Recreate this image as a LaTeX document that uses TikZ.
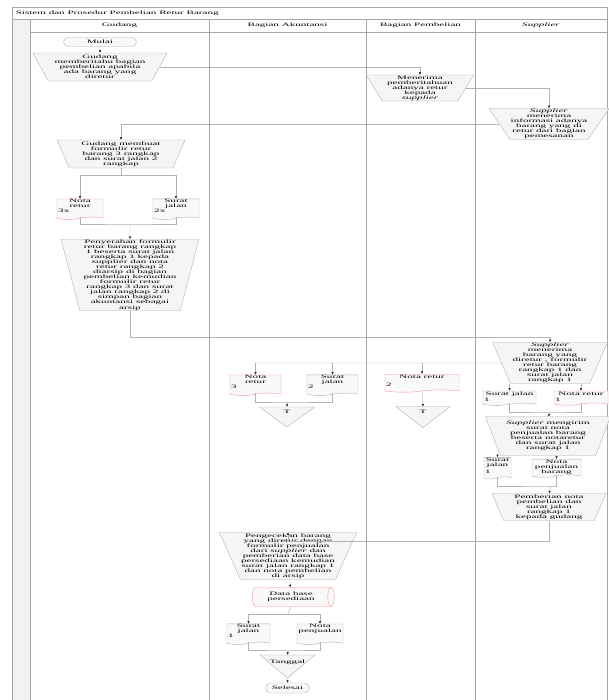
\documentclass[tikz,border=0pt]{standalone}
\usepackage{fontspec}
\setmainfont{Liberation Serif}
\newfontfamily\flowfont[FakeStretch=2.15]{Liberation Serif}
\usepackage{tikz}
\usetikzlibrary{arrows.meta, shapes.geometric, shapes.symbols, shapes.misc, positioning, calc}

\newcommand{\pxu}{0.03cm}

\begin{document}
\begin{tikzpicture}[x=0.03cm, y=-0.03cm,
    every node/.style={font=\flowfont\fontsize{4.4}{4.3}\selectfont, inner sep=0.5pt, align=center},
    lane/.style={draw=gray!70, line width=0.5pt},
    manual/.style={trapezium, shape border rotate=180, trapezium stretches body, draw=gray!65, fill=gray!8, line width=0.3pt},
    doc/.style={tape, tape bend top=none, tape bend bottom=in and out, tape bend height=2pt, draw=gray!65, fill=gray!5, line width=0.3pt, minimum height=18*\pxu},
    pinkdoc/.style={doc, draw=red!45},
    term/.style={rounded rectangle, draw=gray!65, fill=gray!5, line width=0.3pt},
    offline/.style={isosceles triangle, shape border rotate=270, isosceles triangle stretches, inner sep=0pt, draw=gray!65, fill=gray!8, line width=0.3pt},
    storage/.style={cylinder, aspect=0.6, draw=red!45, fill=gray!5, line width=0.3pt},
    num/.style={anchor=west, inner sep=1pt, yshift=-2pt},
    tri/.style={yshift=4pt, inner sep=0pt},
    line/.style={draw=gray!60, line width=0.35pt},
    flow/.style={line, -{Latex[length=2.2pt, width=2pt, color=gray!25!black]}}]
\useasboundingbox (0,0) rectangle (608,700);
% bingkai dan lajur
\fill[gray!10] (12,19) rectangle (30,700);
\draw[lane] (12,700) -- (12,7) -- (607,7) -- (607,700);
\draw[lane] (12,19) -- (607,19);
\draw[lane] (30,32) -- (607,32);
\foreach \x in {30,209,366,475} \draw[lane] (\x,19) -- (\x,700);
\node[anchor=west] (judul) at (15,13) {Sistem dan Prosedur Pembelian Retur Barang};
\node (hgud) at (119.5,25.5) {Gudang};
\node (hakt) at (287.5,25.5) {Bagian Akuntansi};
\node (hbel) at (420.5,25.5) {Bagian Pembelian};
\node (hsup) at (541,25.5) {\textit{Supplier}};
% Gudang
\node[term, minimum width=74*\pxu, minimum height=9*\pxu] (mulai) at (100,42) {Mulai};
\node[manual, trapezium angle=58.7, minimum width=134*\pxu, minimum height=28*\pxu] (g1) at (100,67) {Gudang\\memberitahu bagian\\pembelian apabila\\ada barang yang\\diretur};
\node[manual, trapezium angle=65, minimum width=128*\pxu, minimum height=28*\pxu] (g2) at (121,154) {Gudang membuat\\formulir retur\\barang 3 rangkap\\dan surat jalan 2\\rangkap};
\node[pinkdoc, minimum width=46*\pxu, label={[num]west:3x}] (d1) at (80,208) {Nota\\retur\\[3pt]};
\node[doc, minimum width=46*\pxu, label={[num]west:2x}] (d2) at (176,208) {Surat\\jalan\\[3pt]};
\node[manual, trapezium angle=75.2, minimum width=138*\pxu, minimum height=70*\pxu] (g3) at (130,275) {Penyerahan formulir\\retur barang rangkap\\1 beserta surat jalan\\rangkap 1 kepada\\supplier dan nota\\retur rangkap 2\\diarsip di bagian\\pembelian kemudian\\formulir retur\\rangkap 3 dan surat\\jalan rangkap 2 di\\simpan bagian\\akuntansi sebagai\\arsip};
% Bagian Pembelian
\node[manual, trapezium angle=57.6, minimum width=108*\pxu, minimum height=26*\pxu] (p1) at (420,88) {Menerima\\pemberitahuan\\adanya retur\\kepada\\\textit{supplier}};
\node[pinkdoc, minimum width=74*\pxu, label={[num]west:2}] (p2) at (422,382) {Nota retur\\[4pt]};
\node[offline, minimum width=54*\pxu, minimum height=21*\pxu, label={[tri]center:T}] (t2) at (423,416) {};
% Supplier
\node[manual, trapezium angle=55.6, minimum width=112*\pxu, minimum height=27*\pxu] (s1) at (549,124) {\textit{Supplier}\\menerima\\informasi adanya\\barang  yang di\\retur dari bagian\\pemesanan};
\node[manual, trapezium angle=66.4, minimum width=115*\pxu, minimum height=40*\pxu] (s2) at (550,363) {\textit{Supplier}\\menerima\\barang yang\\diretur , formulir\\retur barang\\rangkap 1 dan\\surat jalan\\rangkap 1};
\node[doc, minimum width=53*\pxu, minimum height=13*\pxu, label={[num]west:1}] (sd1) at (509.5,397) {Surat jalan\\[2pt]};
\node[pinkdoc, minimum width=54*\pxu, minimum height=13*\pxu, label={[num]west:1}] (sd2) at (581,397) {Nota retur\\[2pt]};
\node[manual, trapezium angle=64.6, minimum width=125*\pxu, minimum height=39*\pxu] (s3) at (548,436) {\textit{Supplier} mengirim\\surat nota\\penjualan barang\\beserta notaretur\\dan surat jalan\\rangkap 1};
\node[doc, minimum width=27*\pxu, minimum height=16*\pxu, label={[num, yshift=-2pt]west:1}] (sd3) at (497.5,467) {Surat\\jalan\\[4pt]};
\node[doc, minimum width=49*\pxu, minimum height=16*\pxu] (sd4) at (556.5,467) {Nota\\penjualan\\barang};
\node[manual, trapezium angle=66, minimum width=114*\pxu, minimum height=27*\pxu] (s4) at (549,507) {Pemberian nota\\pembelian dan\\surat jalan\\rangkap 1\\kepada gudang};
% Bagian Akuntansi
\node[pinkdoc, minimum width=51*\pxu, label={[num]west:3}] (a1) at (255.5,384) {Nota\\retur\\[3pt]};
\node[doc, minimum width=51*\pxu, label={[num]west:2}] (a2) at (332.5,384) {Surat\\jalan\\[3pt]};
\node[offline, minimum width=55*\pxu, minimum height=20*\pxu, label={[tri]center:T}] (t1) at (287,416) {};
\node[manual, trapezium angle=65.4, minimum width=134*\pxu, minimum height=47*\pxu] (a3) at (288,556) {Pengecekan barang\\yang diretur dengan\\formulir penjualan\\dari \textit{supplier} dan\\pemberian data base\\persediaan kemudian\\surat jalan rangkap 1\\dan nota pembelian\\di arsip};
\node[storage, minimum width=19*\pxu, minimum height=82*\pxu] (db) at (291,597) {Data base\\persediaan};
\node[doc, minimum width=43*\pxu, label={[num]west:1}] (ad1) at (248.5,633) {Surat\\jalan\\[3pt]};
\node[doc, minimum width=46*\pxu] (ad2) at (320,633) {Nota\\penjualan\\[3pt]};
\node[offline, minimum width=55*\pxu, minimum height=23*\pxu, label={[tri, yshift=-1.5pt]center:Tanggal}] (t3) at (287.5,665) {};
\node[term, minimum width=45*\pxu, minimum height=10*\pxu] (selesai) at (287.5,688) {Selesai};
% titik cabang
\coordinate (j1) at ($(g2.south)+(0,7)$);
\coordinate (j2) at (130,224);
\coordinate (j3) at (255.5,363);
\coordinate (j4) at (332.5,363);
\coordinate (j5) at (422,363);
\coordinate (j6) at (287,402);
\coordinate (j7) at (551,412);
\coordinate (j8) at (551,486);
\coordinate (j9) at (288,614);
\coordinate (j10) at (288,650);
% alur
\draw[flow] (mulai) -- (g1);
\draw[flow] (g1.east) -| (p1.north);
\draw[flow] (p1.east) -| (s1.north);
\draw[flow] (s1.west) -| (g2.north);
\draw[line] (g2.south) -- (j1);
\draw[flow] (j1) -| (d1.north);
\draw[flow] (j1) -| (d2.north);
\draw[line] (d1.south) |- (j2) -| (d2.south);
\draw[flow] (j2) -- (g3.north);
\draw[flow] (g3.south) -- ++(0,26) -| (s2.north);
\draw[line] (s2.west) -- (j3);
\draw[flow] (j3) -- (a1.north);
\draw[flow] (j4) -- (a2.north);
\draw[flow] (j5) -- (p2.north);
\draw[line] (a1.south) |- (j6) -| (a2.south);
\draw[flow] (j6) -- (t1.north);
\draw[flow] (p2.south) -- (t2.north);
\draw[flow] (s2.south -| sd1.north) -- (sd1.north);
\draw[flow] (s2.south -| sd2.north) -- (sd2.north);
\draw[line] (sd1.south) |- (j7) -| (sd2.south);
\draw[flow] (j7) -- (s3.north);
\draw[flow] (s3.south -| sd3.north) -- (sd3.north);
\draw[flow] (s3.south -| sd4.north) -- (sd4.north);
\draw[line] (sd3.south) |- (j8) -| (sd4.south);
\draw[flow] (j8) -- (s4.north);
\draw[flow] (s4.south) -- ++(0,21) -| (a3.north);
\draw[flow] (a3) -- (db);
\draw[line] (db.south) -- (j9);
\draw[flow] (j9) -| (ad1.north);
\draw[flow] (j9) -| (ad2.north);
\draw[line] (ad1.south) |- (j10) -| (ad2.south);
\draw[flow] (j10) -- (t3.north);
\draw[flow] (t3.south) -- (selesai);
\end{tikzpicture}
\end{document}
